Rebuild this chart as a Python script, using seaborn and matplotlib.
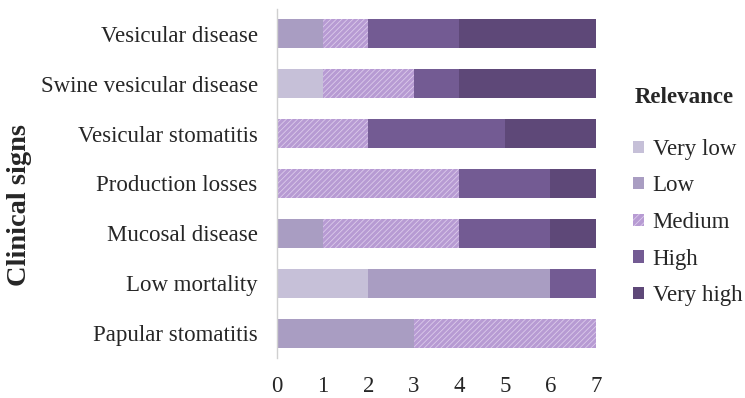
import numpy as np
import matplotlib
matplotlib.use('Agg')
import matplotlib.pyplot as plt
import matplotlib.patches as mpatches
import seaborn as sns

# ── Data ─────────────────────────────────────────────────────
signs = ['Vesicular disease', 'Swine vesicular disease', 'Vesicular stomatitis',
         'Production losses', 'Mucosal disease', 'Low mortality', 'Papular stomatitis']
levels = ['Very low', 'Low', 'Medium', 'High', 'Very high']
very_low  = [0, 1, 0, 0, 0, 2, 0]
low       = [1, 0, 0, 0, 1, 4, 3]
medium    = [1, 2, 2, 4, 3, 0, 4]
high      = [2, 1, 3, 2, 2, 1, 0]
very_high = [3, 3, 2, 1, 1, 0, 0]
x_ticks = [0, 1, 2, 3, 4, 5, 6, 7]

colors = ['#c6c0d8', '#a99dc2', '#b79bd3', '#735b93', '#5e4878']
hatches = [None, None, '//////', None, None]

# ── Style ────────────────────────────────────────────────────
sns.set_style('white')
plt.rcParams['font.family'] = ['Liberation Serif', 'DejaVu Serif']
plt.rcParams['hatch.linewidth'] = 0.6
FS = 16.5

fig = plt.figure(figsize=(7.45, 3.98), dpi=100)
ax = fig.add_axes([0.372, 0.1005, 0.428, 0.877])

y = np.arange(len(signs))
left = np.zeros(len(signs))
series = [very_low, low, medium, high, very_high]
for lvl, vals, c, h in zip(levels, series, colors, hatches):
    vals = np.array(vals, dtype=float)
    if h:
        ax.barh(y, vals, left=left, height=0.58, color=c, hatch=h,
                edgecolor='#dccbeb', linewidth=0)
    else:
        ax.barh(y, vals, left=left, height=0.58, color=c, linewidth=0)
    left += vals

ax.set_ylim(len(signs) - 0.5, -0.5)
ax.set_xlim(0, 7)
ax.set_yticks(y)
ax.set_yticklabels(signs, fontsize=FS, color='#262626')
ax.set_xticks(x_ticks)
ax.set_xticklabels([str(t) for t in x_ticks], fontsize=FS, color='#262626')
ax.tick_params(axis='both', length=0)
ax.tick_params(axis='y', pad=14)
ax.tick_params(axis='x', pad=13)
for s in ['top', 'right', 'bottom']:
    ax.spines[s].set_visible(False)
ax.spines['left'].set_color('#d0d0d0')
ax.spines['left'].set_linewidth(1)

fig.text(0.026, 0.485, 'Clinical signs', rotation=90, fontsize=20.5,
         fontweight='bold', va='center', ha='center')

# ── Legend ───────────────────────────────────────────────────
handles = []
for lvl, c, h in zip(levels, colors, hatches):
    if h:
        handles.append(mpatches.Patch(facecolor=c, hatch='/////', edgecolor='#dccbeb',
                                      linewidth=0, label=lvl))
    else:
        handles.append(mpatches.Patch(facecolor=c, linewidth=0, label=lvl))
leg = fig.legend(handles=handles, loc='upper left', bbox_to_anchor=(0.85, 0.651),
                 frameon=False, fontsize=FS, handlelength=0.45, handleheight=0.45,
                 handletextpad=0.4, labelspacing=0.68, borderaxespad=0, borderpad=0)
fig.text(0.852, 0.754, 'Relevance', fontsize=FS, fontweight='bold',
         va='center', ha='left')

plt.savefig('out.png', dpi=100)
